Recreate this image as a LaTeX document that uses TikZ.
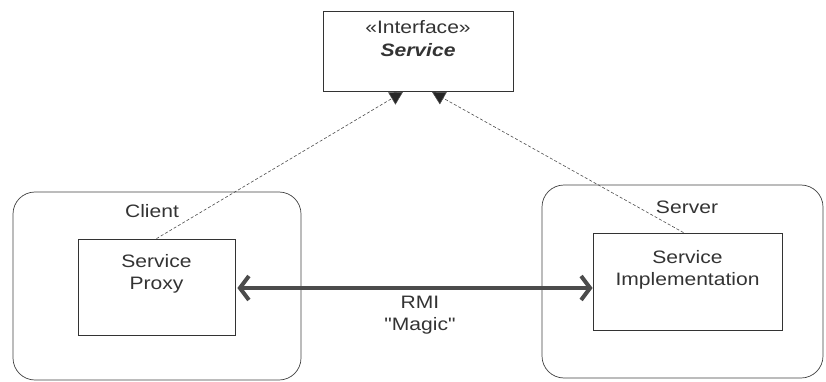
\documentclass[tikz,border=0pt]{standalone}
\usepackage{fontspec}
\setmainfont{Liberation Sans}[FakeStretch=1.17]
\newfontfamily\rawfont{Liberation Sans}[FakeStretch=1.17, Ligatures=ResetAll]
\usetikzlibrary{arrows.meta}
\begin{document}
\begin{tikzpicture}[x=1pt,y=-1pt,
  every node/.style={font=\fontsize{18}{22}\selectfont, text=black!80},
  container/.style={draw=black!75, line width=0.7pt, rounded corners=22pt, inner sep=0pt},
  box/.style={draw=black!80, line width=0.8pt, inner sep=0pt},
  label/.style={inner sep=0pt, align=center},
  realize/.style={draw=black!70, densely dashed, line width=0.6pt,
    -{Triangle[length=13pt,width=14pt,fill=black!85]}},
  rmi/.style={draw=black!70, line width=4pt,
    {Straight Barb[length=9pt,width=24pt]}-{Straight Barb[length=9pt,width=24pt]}}
]
\useasboundingbox (0,0) rectangle (826,382);
% containers
\node[container, minimum width=288pt, minimum height=188pt] (client) at (157,286) {};
\node[container, minimum width=281pt, minimum height=193pt] (server) at (682.5,281.5) {};
\node[label] (clientlbl) at (152,211) {Client};
\node[label] (serverlbl) at (687,207) {Server};
% interface
\node[box, minimum width=190pt, minimum height=80pt] (iface) at (418,51.5) {};
\node[label] (ifacest) at (418,27) {«Interface»};
\node[label] (ifacename) at (418,50) {\bfseries\itshape Service};
% proxy
\node[box, minimum width=157pt, minimum height=96pt] (proxy) at (156.5,287) {};
\node[label] (proxytxt) at (156.5,273.5) {Service\\Proxy};
% implementation
\node[box, minimum width=189pt, minimum height=97pt] (impl) at (687.5,281.5) {};
\node[label] (impltxt) at (687.5,269.5) {Service\\Implementation};
% realization connectors
\coordinate (tipL) at ([xshift=-15pt]iface.south);
\coordinate (tipR) at ([xshift=14pt]iface.south);
\draw[realize] (proxy.north) -- (tipL);
\draw[realize] ([xshift=-4pt]impl.north) -- (tipR);
% RMI
\coordinate (rmiL) at ([xshift=2pt,yshift=-1pt]proxy.east);
\coordinate (rmiR) at (rmiL -| impl.west);
\draw[rmi] (rmiL) -- (rmiR);
\node[label] (rmitxt) at (420,315) {RMI\\{\rawfont "Magic"}};
\end{tikzpicture}
\end{document}
